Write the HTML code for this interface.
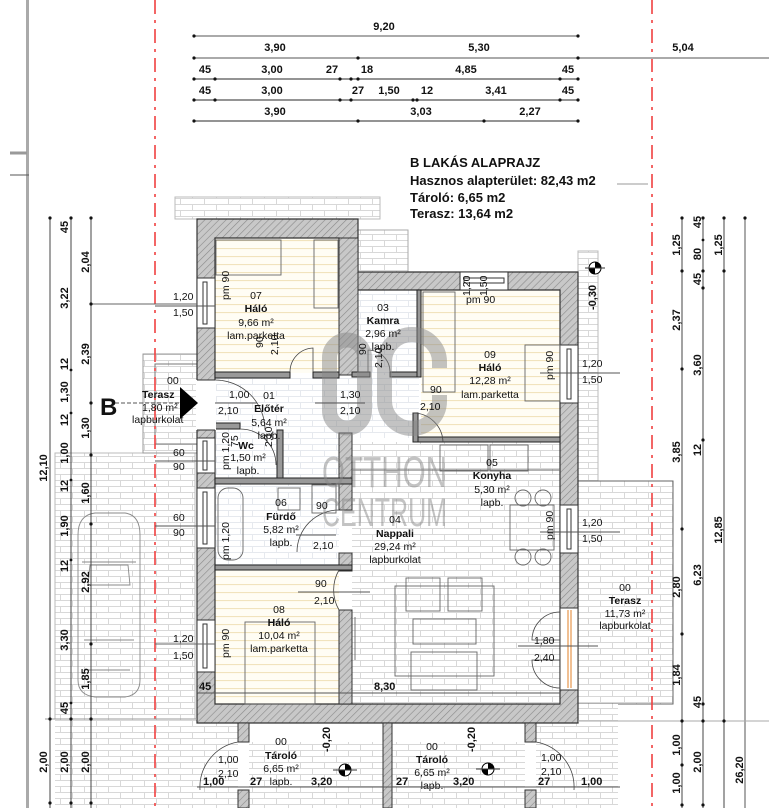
<!DOCTYPE html>
<html><head><meta charset="utf-8"><style>
html,body{margin:0;padding:0;background:#fff;}
svg{display:block;}
text{font-family:"Liberation Sans",sans-serif;fill:#111;}
.d{font-size:11px;font-weight:bold;}
.n{font-size:10.5px;}
.b{font-size:10.5px;font-weight:bold;}
</style></head><body>
<svg width="769" height="808" viewBox="0 0 769 808" xmlns="http://www.w3.org/2000/svg">
<defs>
<pattern id="h" width="5" height="5" patternUnits="userSpaceOnUse" patternTransform="rotate(45)">
<rect width="5" height="5" fill="#c8c8c8"/><line x1="0" y1="0" x2="0" y2="5" stroke="#8a8a8a" stroke-width="1.2"/></pattern>
<pattern id="t" width="24" height="12" patternUnits="userSpaceOnUse">
<rect width="24" height="12" fill="#fff"/><path d="M0 0.5H24M0.5 0V6M12.5 6V12M0 6.5H24" stroke="#d8d8d8" stroke-width="1" fill="none"/></pattern>
<pattern id="ti" width="24" height="12" patternUnits="userSpaceOnUse">
<rect width="24" height="12" fill="#fff"/><path d="M0 0.5H24M0.5 0V6M12.5 6V12M0 6.5H24" stroke="#e6e9ee" stroke-width="1" fill="none"/></pattern>
<pattern id="p" width="10" height="8" patternUnits="userSpaceOnUse">
<rect width="10" height="8" fill="#fffdf4"/><line x1="0" y1="0.5" x2="10" y2="0.5" stroke="#f1e3bd" stroke-width="1.2"/></pattern>
</defs>

<rect x="26" y="0" width="3" height="808" fill="#aaa"/>
<line x1="10" y1="153" x2="27" y2="153" stroke="#999" stroke-width="3"/>
<line x1="10" y1="175" x2="29" y2="175" stroke="#555"/>

<rect x="55" y="453" width="140" height="266" fill="url(#t)" stroke="#bbb"/>
<rect x="55" y="719" width="142" height="89" fill="url(#t)"/>
<rect x="143" y="354" width="54" height="99" fill="url(#t)" stroke="#999"/>
<rect x="155" y="364" width="42" height="80" fill="none" stroke="#777"/>
<rect x="175" y="197" width="205" height="22" fill="url(#t)" stroke="#bbb"/>
<rect x="358" y="230" width="50" height="42" fill="url(#t)" stroke="#aaa"/>
<rect x="578" y="251" width="20" height="230" fill="url(#t)" stroke="#bbb"/>
<rect x="578" y="481" width="95" height="223" fill="url(#t)" stroke="#666"/>
<rect x="578" y="704" width="40" height="104" fill="url(#t)"/>
<rect x="197" y="723" width="41" height="85" fill="url(#t)"/>
<rect x="536" y="723" width="42" height="85" fill="url(#t)"/>

<rect x="215" y="238" width="124" height="135" fill="url(#p)"/>
<rect x="421" y="290" width="139" height="148" fill="url(#p)"/>
<rect x="215" y="570" width="124" height="134" fill="url(#p)"/>
<rect x="352" y="290" width="65" height="85" fill="url(#ti)"/>
<rect x="215" y="378" width="124" height="100" fill="url(#ti)"/>
<rect x="215" y="484" width="124" height="81" fill="url(#ti)"/>
<rect x="352" y="442" width="208" height="262" fill="url(#t)"/>
<rect x="339" y="378" width="80" height="60" fill="url(#ti)"/>
<rect x="249" y="742" width="134" height="66" fill="url(#t)"/>
<rect x="392" y="742" width="133" height="66" fill="url(#t)"/>

<line x1="155" y1="0" x2="155" y2="808" stroke="#f04040" stroke-width="1.6" stroke-dasharray="14,6,3,6"/>
<line x1="652" y1="0" x2="652" y2="808" stroke="#f04040" stroke-width="1.6" stroke-dasharray="14,6,3,6"/>

<path d="M197,219H358V272H578V723H197Z M215,238V704H560V290H339V238Z" fill="url(#h)" fill-rule="evenodd" stroke="#333" stroke-width="1.2"/>
<rect x="238" y="723" width="11" height="19" fill="url(#h)" stroke="#333"/>
<rect x="238" y="790" width="11" height="18" fill="url(#h)" stroke="#333"/>
<rect x="383" y="723" width="9" height="85" fill="url(#h)" stroke="#333"/>
<rect x="525" y="723" width="11" height="19" fill="url(#h)" stroke="#333"/>
<rect x="525" y="790" width="11" height="18" fill="url(#h)" stroke="#333"/>
<line x1="197" y1="723" x2="578" y2="723" stroke="#333"/>

<g fill="url(#h)" stroke="#333" stroke-width="1">
<rect x="339" y="238" width="19" height="137"/>
<rect x="339" y="433" width="13" height="77"/>
<rect x="339" y="553" width="13" height="18"/>
<rect x="339" y="610" width="13" height="94"/>
</g>
<g fill="#999" stroke="#222" stroke-width="1">
<rect x="215" y="372" width="75" height="6"/>
<rect x="313" y="372" width="26" height="6"/>
<rect x="352" y="372" width="18" height="5"/>
<rect x="390" y="372" width="31" height="5"/>
<rect x="417" y="290" width="4" height="87"/>
<rect x="413" y="437" width="147" height="5"/>
<rect x="413" y="413" width="5" height="29"/>
<rect x="215" y="423" width="25" height="6"/>
<rect x="277" y="430" width="6" height="48"/>
<rect x="215" y="478" width="137" height="6"/>
<rect x="215" y="565" width="137" height="5"/>
</g>

<rect x="196" y="380" width="20" height="50" fill="#fff"/>
<line x1="197" y1="380" x2="215" y2="380" stroke="#333"/>
<line x1="197" y1="430" x2="215" y2="430" stroke="#333"/>
<g fill="#fff" stroke="#333" stroke-width="1">
<rect x="197" y="278" width="18" height="50"/>
<rect x="197" y="438" width="18" height="35"/>
<rect x="197" y="488" width="18" height="60"/>
<rect x="197" y="620" width="18" height="52"/>
<rect x="460" y="272" width="48" height="18"/>
<rect x="560" y="345" width="18" height="58"/>
<rect x="560" y="505" width="18" height="48"/>
<rect x="560" y="608" width="18" height="82"/>
</g>
<g stroke="#333" stroke-width="1" fill="none">
<rect x="203" y="282" width="4" height="42"/>
<rect x="203" y="441" width="4" height="29"/>
<rect x="203" y="492" width="4" height="52"/>
<rect x="203" y="624" width="4" height="44"/>
<rect x="464" y="278" width="40" height="5"/>
<rect x="567" y="349" width="4" height="50"/>
<rect x="567" y="509" width="4" height="40"/>
</g>
<line x1="568" y1="610" x2="568" y2="688" stroke="#e0802a" stroke-width="1"/>
<line x1="571" y1="610" x2="571" y2="688" stroke="#e0802a" stroke-width="1"/>

<g fill="none" stroke="#444" stroke-width="0.8">
<path d="M290,372 A24,24 0 0 1 313,348 V372"/>
<path d="M390,372 A22,22 0 0 0 368,350 V372"/>
<path d="M413,413 A30,30 0 0 1 443,442"/>
<path d="M215,380 A50,50 0 0 1 265,430"/>
<path d="M240,429 A36,36 0 0 1 276,465"/>
<path d="M339,510 A42,42 0 0 0 297,552"/>
<path d="M339,570 A40,40 0 0 0 339,610"/>
<path d="M560,612 A28,28 0 0 0 532,640 H560"/>
<path d="M560,688 A28,28 0 0 1 532,660 H560"/>
<path d="M238,742 A46,46 0 0 0 200,790"/>
<path d="M536,742 A46,46 0 0 1 574,790"/>
</g>

<g fill="none" stroke="#666" stroke-width="0.9">
<rect x="216" y="240" width="65" height="35"/>
<rect x="314" y="240" width="24" height="68"/>
<rect x="423" y="292" width="32" height="100"/>
<rect x="525" y="345" width="35" height="56"/>
<rect x="440" y="445" width="48" height="26"/>
<rect x="490" y="445" width="38" height="26"/>
<line x1="352" y1="470" x2="560" y2="470"/>
<rect x="510" y="505" width="44" height="45"/>
<circle cx="523" cy="498" r="8"/><circle cx="543" cy="498" r="8"/>
<circle cx="523" cy="557" r="8"/><circle cx="543" cy="557" r="8"/>
<rect x="406" y="578" width="34" height="33"/>
<rect x="448" y="578" width="34" height="33"/>
<rect x="413" y="619" width="63" height="25"/>
<rect x="411" y="652" width="66" height="38"/>
<rect x="395" y="586" width="99" height="90"/>
<rect x="245" y="622" width="70" height="82"/>
<rect x="218" y="488" width="25" height="72" rx="10"/>
<rect x="312" y="485" width="24" height="28"/>
<rect x="278" y="488" width="22" height="22"/>
<line x1="355" y1="617" x2="355" y2="660"/>
</g>

<g fill="none" stroke="#888" stroke-width="0.9">
<path d="M78,535 Q78,515 95,513 H125 Q140,515 140,535 V680 Q140,695 125,697 H95 Q78,695 78,680 Z"/>
<path d="M82,562 H136 M88,585 L130,585 L128,565 L90,565 Z M84,640 H134 M88,670 H130"/>
</g>

<!-- Watermark -->
<g opacity="0.5">
<rect x="329.5" y="340" width="35" height="88" rx="17.5" fill="none" stroke="#888" stroke-width="15"/>
<path d="M439.5,368 V362 A27.5,27.5 0 0 0 384.5,362 V401 A27.5,27.5 0 0 0 439.5,401 V395" fill="none" stroke="#888" stroke-width="15"/>
<text x="322" y="487" textLength="125" lengthAdjust="spacingAndGlyphs" style="font-size:44px;fill:#888">OTTHON</text>
<text x="322" y="526" textLength="125" lengthAdjust="spacingAndGlyphs" style="font-size:40px;fill:#888">CENTRUM</text>
</g>

<text x="410" y="167" style="font-size:13px;font-weight:bold">B LAKÁS ALAPRAJZ</text>
<text x="410" y="185" style="font-size:13px;font-weight:bold">Hasznos alapterület: 82,43 m2</text>
<line x1="617" y1="184" x2="648" y2="184" stroke="#999"/>
<text x="410" y="202" style="font-size:13px;font-weight:bold">Tároló: 6,65 m2</text>
<text x="410" y="218" style="font-size:13px;font-weight:bold">Terasz:   13,64 m2</text>

<g stroke="#555" stroke-width="1.2">
<line x1="194" y1="36" x2="578" y2="36" stroke="#aaa" stroke-width="2"/>
<line x1="194" y1="58" x2="769" y2="58" stroke="#aaa" stroke-width="2"/>
<line x1="194" y1="79" x2="578" y2="79"/>
<line x1="194" y1="100" x2="578" y2="100"/>
<line x1="194" y1="121" x2="578" y2="121"/>
</g>
<g fill="#111">
<circle cx="194" cy="36" r="1.6"/><circle cx="578" cy="36" r="1.6"/>
<circle cx="194" cy="58" r="1.6"/><circle cx="358" cy="58" r="1.6"/><circle cx="578" cy="58" r="1.6"/>
<circle cx="194" cy="79" r="1.6"/><circle cx="215" cy="79" r="1.6"/><circle cx="340" cy="79" r="1.6"/><circle cx="351" cy="79" r="1.6"/><circle cx="358" cy="79" r="1.6"/><circle cx="560" cy="79" r="1.6"/><circle cx="578" cy="79" r="1.6"/>
<circle cx="194" cy="100" r="1.6"/><circle cx="215" cy="100" r="1.6"/><circle cx="340" cy="100" r="1.6"/><circle cx="351" cy="100" r="1.6"/><circle cx="413" cy="100" r="1.6"/><circle cx="417" cy="100" r="1.6"/><circle cx="560" cy="100" r="1.6"/><circle cx="578" cy="100" r="1.6"/>
<circle cx="194" cy="121" r="1.6"/><circle cx="358" cy="121" r="1.6"/><circle cx="484" cy="121" r="1.6"/><circle cx="578" cy="121" r="1.6"/>
</g>
<g class="d" text-anchor="middle">
<text x="384" y="30" class="d">9,20</text>
<text x="275" y="51" class="d">3,90</text><text x="479" y="51" class="d">5,30</text><text x="683" y="51" class="d">5,04</text>
<text x="205" y="73" class="d">45</text><text x="272" y="73" class="d">3,00</text><text x="332" y="73" class="d">27</text><text x="367" y="73" class="d">18</text><text x="466" y="73" class="d">4,85</text><text x="568" y="73" class="d">45</text>
<text x="205" y="94" class="d">45</text><text x="272" y="94" class="d">3,00</text><text x="358" y="94" class="d">27</text><text x="389" y="94" class="d">1,50</text><text x="427" y="94" class="d">12</text><text x="496" y="94" class="d">3,41</text><text x="568" y="94" class="d">45</text>
<text x="275" y="115" class="d">3,90</text><text x="421" y="115" class="d">3,03</text><text x="530" y="115" class="d">2,27</text>
</g>

<g stroke="#444" stroke-width="1">
<line x1="50" y1="218" x2="50" y2="808"/>
<line x1="71" y1="218" x2="71" y2="808"/>
<line x1="91" y1="218" x2="91" y2="808"/>
<line x1="45" y1="719" x2="197" y2="719" stroke="#999"/>
<line x1="91" y1="304" x2="197" y2="304" stroke="#666"/>
<line x1="155" y1="644" x2="215" y2="644" stroke="#666"/>
<line x1="115" y1="403" x2="196" y2="403" stroke="#555" stroke-dasharray="4,2"/>
</g>
<g fill="#111">
<circle cx="50" cy="218" r="1.6"/><circle cx="71" cy="218" r="1.6"/><circle cx="91" cy="218" r="1.6"/>
<circle cx="91" cy="304" r="1.6"/><circle cx="91" cy="403" r="1.6"/><circle cx="91" cy="455" r="1.6"/><circle cx="91" cy="524" r="1.6"/><circle cx="91" cy="644" r="1.6"/>
<circle cx="50" cy="719" r="1.6"/><circle cx="71" cy="719" r="1.6"/><circle cx="91" cy="719" r="1.6"/>
<circle cx="71" cy="370" r="1.4"/><circle cx="71" cy="413" r="1.4"/><circle cx="71" cy="480" r="1.4"/><circle cx="71" cy="560" r="1.4"/><circle cx="71" cy="703" r="1.4"/>
<circle cx="50" cy="803" r="1.6"/><circle cx="71" cy="803" r="1.6"/><circle cx="91" cy="803" r="1.6"/>
</g>
<g class="d" text-anchor="middle">
<text transform="translate(68,227) rotate(-90)">45</text>
<text transform="translate(68,298) rotate(-90)">3,22</text>
<text transform="translate(68,364) rotate(-90)">12</text>
<text transform="translate(68,392) rotate(-90)">1,30</text>
<text transform="translate(68,420) rotate(-90)">12</text>
<text transform="translate(68,453) rotate(-90)">1,00</text>
<text transform="translate(68,486) rotate(-90)">12</text>
<text transform="translate(68,526) rotate(-90)">1,90</text>
<text transform="translate(68,566) rotate(-90)">12</text>
<text transform="translate(68,640) rotate(-90)">3,30</text>
<text transform="translate(68,708) rotate(-90)">45</text>
<text transform="translate(68,762) rotate(-90)">2,00</text>
<text transform="translate(89,262) rotate(-90)">2,04</text>
<text transform="translate(89,354) rotate(-90)">2,39</text>
<text transform="translate(89,428) rotate(-90)">1,30</text>
<text transform="translate(89,493) rotate(-90)">1,60</text>
<text transform="translate(89,582) rotate(-90)">2,92</text>
<text transform="translate(89,679) rotate(-90)">1,85</text>
<text transform="translate(89,762) rotate(-90)">2,00</text>
<text transform="translate(47,468) rotate(-90)">12,10</text>
<text transform="translate(47,762) rotate(-90)">2,00</text>
</g>

<text x="100" y="415" style="font-size:24px;font-weight:bold">B</text>
<path d="M180,387 L198,403 L180,419 Z" fill="#000"/>
<text x="142" y="398" class="b">Terasz</text>
<text x="142" y="411" class="n">1,80 m²</text>
<text x="132" y="423" class="n">lapburkolat</text>
<text x="167" y="384" class="n">00</text>

<g class="n">
<text x="173" y="300">1,20</text><text x="173" y="316">1,50</text>
<text x="173" y="456">60</text><text x="173" y="470">90</text>
<text x="173" y="521">60</text><text x="173" y="536">90</text>
<text x="173" y="642">1,20</text><text x="173" y="659">1,50</text>
<line x1="155" y1="306" x2="215" y2="306" stroke="#555"/>
<line x1="155" y1="461" x2="215" y2="461" stroke="#555"/>
<line x1="155" y1="526" x2="215" y2="526" stroke="#555"/>
</g>

<g stroke="#444" stroke-width="1">
<line x1="682" y1="218" x2="682" y2="808"/>
<line x1="703" y1="218" x2="703" y2="808"/>
<line x1="724" y1="218" x2="724" y2="808"/>
<line x1="745" y1="218" x2="745" y2="808" stroke="#aaa" stroke-width="2"/>
<line x1="578" y1="721" x2="769" y2="721" stroke="#aaa"/>
</g>
<g fill="#111">
<circle cx="682" cy="218" r="1.6"/><circle cx="703" cy="218" r="1.6"/><circle cx="724" cy="218" r="1.6"/><circle cx="745" cy="218" r="1.6"/>
<circle cx="682" cy="271" r="1.6"/><circle cx="703" cy="271" r="1.6"/><circle cx="724" cy="271" r="1.6"/>
<circle cx="703" cy="288" r="1.6"/><circle cx="703" cy="240" r="1.4"/>
<circle cx="682" cy="369" r="1.6"/><circle cx="703" cy="440" r="1.6"/>
<circle cx="682" cy="529" r="1.6"/><circle cx="682" cy="634" r="1.6"/>
<circle cx="703" cy="704" r="1.6"/><circle cx="682" cy="721" r="1.6"/><circle cx="703" cy="721" r="1.6"/><circle cx="724" cy="721" r="1.6"/>
<circle cx="682" cy="765" r="1.6"/><circle cx="682" cy="805" r="1.6"/><circle cx="703" cy="805" r="1.6"/>
</g>
<g class="d" text-anchor="middle">
<text transform="translate(680,245) rotate(-90)">1,25</text>
<text transform="translate(680,320) rotate(-90)">2,37</text>
<text transform="translate(680,452) rotate(-90)">3,85</text>
<text transform="translate(680,587) rotate(-90)">2,80</text>
<text transform="translate(680,675) rotate(-90)">1,84</text>
<text transform="translate(680,745) rotate(-90)">1,00</text>
<text transform="translate(680,783) rotate(-90)">1,00</text>
<text transform="translate(701,222) rotate(-90)">45</text>
<text transform="translate(701,254) rotate(-90)">80</text>
<text transform="translate(701,279) rotate(-90)">45</text>
<text transform="translate(701,365) rotate(-90)">3,60</text>
<text transform="translate(701,450) rotate(-90)">12</text>
<text transform="translate(701,575) rotate(-90)">6,23</text>
<text transform="translate(701,702) rotate(-90)">45</text>
<text transform="translate(701,762) rotate(-90)">2,00</text>
<text transform="translate(722,245) rotate(-90)">1,25</text>
<text transform="translate(722,530) rotate(-90)">12,85</text>
<text transform="translate(743,770) rotate(-90)">26,20</text>
</g>

<circle cx="595" cy="268" r="6" fill="#fff" stroke="#000"/>
<path d="M595,262 A6,6 0 0 1 601,268 H595Z M595,274 A6,6 0 0 1 589,268 H595Z" fill="#000"/>
<line x1="585" y1="268" x2="605" y2="268" stroke="#333"/>
<text transform="translate(596,310) rotate(-90)" class="d">-0,30</text>

<g class="n">
<text x="582" y="367">1,20</text><text x="582" y="383">1,50</text>
<text x="582" y="526">1,20</text><text x="582" y="542">1,50</text>
<line x1="540" y1="373" x2="620" y2="373" stroke="#555"/>
<line x1="540" y1="532" x2="620" y2="532" stroke="#555"/>
<text x="534" y="644">1,80</text><text x="534" y="661">2,40</text>
<line x1="518" y1="646" x2="598" y2="646" stroke="#555"/>
</g>

<text x="625" y="591" class="n" text-anchor="middle">00</text>
<text x="625" y="604" class="b" text-anchor="middle">Terasz</text>
<text x="625" y="617" class="n" text-anchor="middle">11,73 m²</text>
<text x="625" y="629" class="n" text-anchor="middle">lapburkolat</text>

<g text-anchor="middle">
<text x="256" y="299" class="n">07</text><text x="256" y="312" class="b">Háló</text><text x="256" y="326" class="n">9,66 m²</text><text x="256" y="339" class="n">lam.parketta</text>
<text x="383" y="311" class="n">03</text><text x="383" y="324" class="b">Kamra</text><text x="383" y="337" class="n">2,96 m²</text><text x="383" y="350" class="n">lapb.</text>
<text x="490" y="358" class="n">09</text><text x="490" y="371" class="b">Háló</text><text x="490" y="384" class="n">12,28 m²</text><text x="490" y="398" class="n">lam.parketta</text>
<text x="269" y="399" class="n">01</text><text x="269" y="412" class="b">Előtér</text><text x="269" y="426" class="n">5,64 m²</text><text x="269" y="439" class="n">lapb.</text>
<text x="246" y="449" class="b">Wc</text><text x="248" y="461" class="n">1,50 m²</text><text x="248" y="474" class="n">lapb.</text>
<text x="281" y="506" class="n">06</text><text x="281" y="520" class="b">Fürdő</text><text x="281" y="533" class="n">5,82 m²</text><text x="281" y="546" class="n">lapb.</text>
<text x="395" y="523" class="n">04</text><text x="395" y="537" class="b">Nappali</text><text x="395" y="550" class="n">29,24 m²</text><text x="395" y="563" class="n">lapburkolat</text>
<text x="492" y="466" class="n">05</text><text x="492" y="479" class="b">Konyha</text><text x="492" y="493" class="n">5,30 m²</text><text x="492" y="506" class="n">lapb.</text>
<text x="279" y="613" class="n">08</text><text x="279" y="626" class="b">Háló</text><text x="279" y="639" class="n">10,04 m²</text><text x="279" y="652" class="n">lam.parketta</text>
<text x="281" y="745" class="n">00</text><text x="281" y="759" class="b">Tároló</text><text x="281" y="772" class="n">6,65 m²</text><text x="281" y="785" class="n">lapb.</text>
<text x="432" y="750" class="n">00</text><text x="432" y="763" class="b">Tároló</text><text x="432" y="776" class="n">6,65 m²</text><text x="432" y="789" class="n">lapb.</text>
</g>

<g class="n">
<text x="229" y="398">1,00</text><text x="218" y="414">2,10</text>
<line x1="215" y1="403" x2="257" y2="403" stroke="#555"/>
<text x="340" y="398">1,30</text><text x="340" y="414">2,10</text>
<line x1="315" y1="403" x2="365" y2="403" stroke="#555"/>
<text x="420" y="410">2,10</text><text x="430" y="393">90</text>
<text x="316" y="509">90</text><text x="313" y="549">2,10</text>
<line x1="296" y1="535" x2="336" y2="535" stroke="#555"/>
<text x="315" y="587">90</text><text x="314" y="604">2,10</text>
<line x1="298" y1="592" x2="370" y2="592" stroke="#555"/>
<text transform="translate(263,348) rotate(-90)">90</text>
<text transform="translate(278,355) rotate(-90)">2,10</text>
<text transform="translate(366,355) rotate(-90)">90</text>
<text transform="translate(382,368) rotate(-90)">2,10</text>
<text transform="translate(229,300) rotate(-90)">pm 90</text>
<text transform="translate(553,380) rotate(-90)">pm 90</text>
<text transform="translate(553,540) rotate(-90)">pm 90</text>
<text transform="translate(229,658) rotate(-90)">pm 90</text>
<text transform="translate(229,560) rotate(-90)">pm 1,20</text>
<text transform="translate(229,470) rotate(-90)">pm 1,20</text>
<text transform="translate(238,447) rotate(-90)">75</text>
<text transform="translate(272,447) rotate(-90)">2,10</text>
<text transform="translate(470,296) rotate(-90)">1,20</text>
<text transform="translate(487,296) rotate(-90)">1,50</text>
<text x="466" y="303">pm 90</text>
<text x="218" y="763">1,00</text><text x="218" y="777">2,10</text>
<text x="541" y="761">1,00</text><text x="541" y="775">2,10</text>
</g>

<g class="d">
<text x="199" y="690">45</text>
<text x="374" y="690">8,30</text>
<line x1="197" y1="693" x2="560" y2="693" stroke="#555"/>
<text x="203" y="785">1,00</text><text x="250" y="785">27</text><text x="311" y="785">3,20</text>
<text x="396" y="785">27</text><text x="453" y="785">3,20</text><text x="538" y="785">27</text><text x="581" y="785">1,00</text>
<line x1="197" y1="787" x2="620" y2="787" stroke="#555"/>
<text transform="translate(330,752) rotate(-90)">-0,20</text>
<text transform="translate(475,752) rotate(-90)">-0,20</text>
</g>
<g>
<circle cx="345" cy="770" r="6" fill="#fff" stroke="#000"/>
<path d="M345,764 A6,6 0 0 1 351,770 H345Z M345,776 A6,6 0 0 1 339,770 H345Z" fill="#000"/>
<line x1="333" y1="770" x2="357" y2="770" stroke="#333"/>
<circle cx="488" cy="769" r="6" fill="#fff" stroke="#000"/>
<path d="M488,763 A6,6 0 0 1 494,769 H488Z M488,775 A6,6 0 0 1 482,769 H488Z" fill="#000"/>
<line x1="476" y1="769" x2="500" y2="769" stroke="#333"/>
</g>
</svg>
</body></html>
